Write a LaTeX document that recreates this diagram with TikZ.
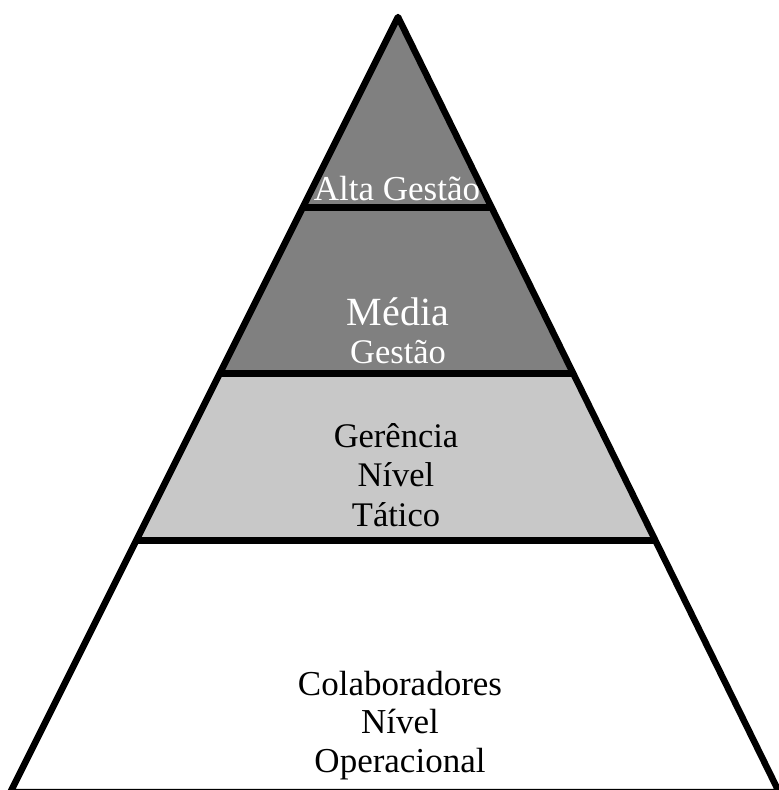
\documentclass[tikz,border=0pt]{standalone}
\usepackage{fontspec}
\setmainfont{Liberation Serif}
\usetikzlibrary{calc}
\definecolor{darkg}{RGB}{128,128,128}
\definecolor{lightg}{RGB}{200,200,200}
\tikzset{
  edge/.style={line width=6.5pt, line join=round},
  divider/.style={line width=7pt},
  lvl/.style={align=center, anchor=base, inner sep=0pt},
}
\begin{document}
\begin{tikzpicture}[x=1pt,y=-1pt]
\useasboundingbox (0,0) rectangle (779,790);
\coordinate (apex) at (398,17);
\coordinate (bl) at (10.5,792);
\coordinate (br) at (779,792);
% level points on the sides
\coordinate (l1) at ($(apex)!{(208-17)/775}!(bl)$);
\coordinate (r1) at ($(apex)!{(208-17)/775}!(br)$);
\coordinate (l2) at ($(apex)!{(373-17)/775}!(bl)$);
\coordinate (r2) at ($(apex)!{(373-17)/775}!(br)$);
\coordinate (l3) at ($(apex)!{(540-17)/775}!(bl)$);
\coordinate (r3) at ($(apex)!{(540-17)/775}!(br)$);
% fills
\fill[darkg] (apex) -- (l2) -- (r2) -- cycle;
\fill[lightg] (l2) -- (l3) -- (r3) -- (r2) -- cycle;
% dividers
\draw[divider] (l1) -- (r1);
\draw[divider] (l2) -- (r2);
\draw[divider] (l3) -- (r3);
% outline
\draw[edge] (bl) -- (apex) -- (br) -- cycle;
% labels (anchor base = baseline of the last line)
\node[lvl, text=white, font=\fontsize{35}{38}\selectfont] (alta) at (397,200) {Alta Gestão};
\node[lvl, text=white, font=\fontsize{34.5}{38}\selectfont] (media) at (398,363) {{\fontsize{40}{38}\selectfont Média}\\Gestão};
\node[lvl, font=\fontsize{34.5}{39.5}\selectfont] (ger) at (396,526) {Gerência\\Nível\\Tático};
\node[lvl, font=\fontsize{35}{38.5}\selectfont] (colab) at (400,772) {Colaboradores\\Nível\\Operacional};
\end{tikzpicture}
\end{document}
